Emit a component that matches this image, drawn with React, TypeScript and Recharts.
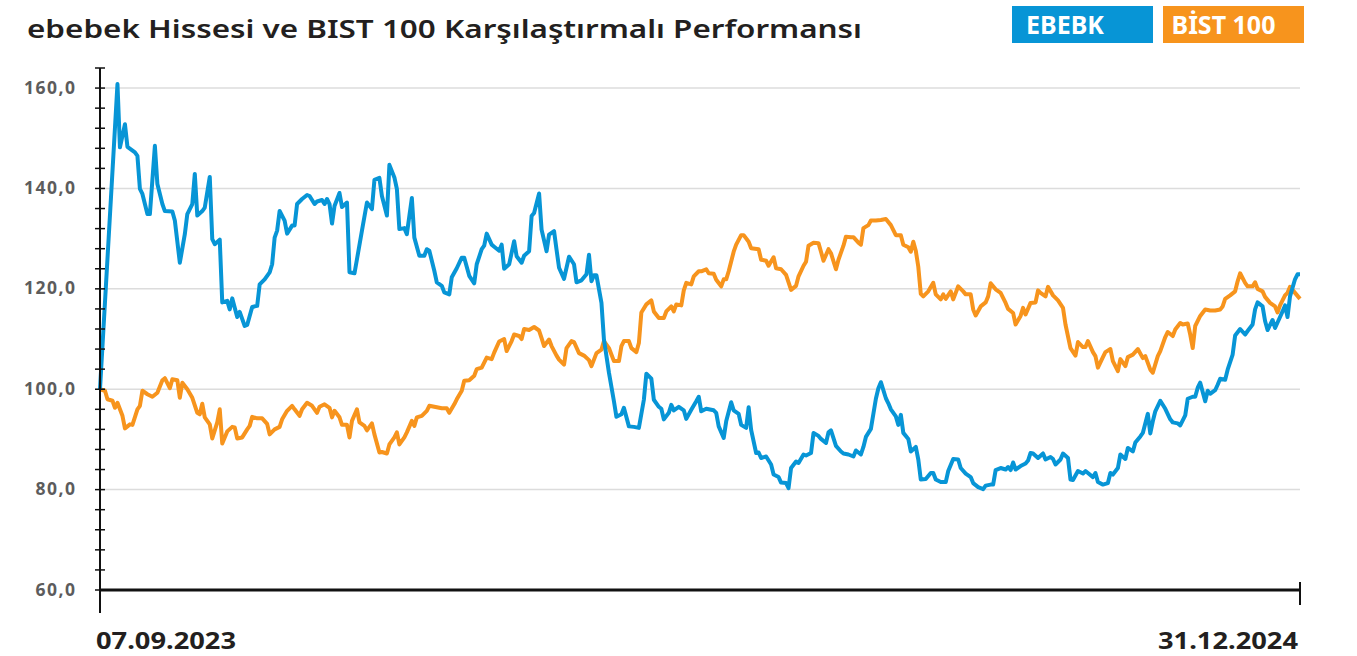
import { LineChart, Line, XAxis, YAxis, CartesianGrid } from "recharts";

// day offsets from 07.09.2023 and normalised values (start = 100)
const ebebkDays = [
  0, 7, 8, 10, 11, 14, 15, 16, 17, 19,
  20, 22, 23, 25, 26, 29, 30, 32, 34, 35,
  37, 38, 39, 41, 42, 44, 45, 46, 48, 49,
  51, 52, 53, 55, 56, 58, 59, 61, 63, 64,
  66, 68, 69, 70, 71, 72, 74, 75, 77, 78,
  79, 81, 83, 84, 86, 87, 89, 90, 91, 92,
  93, 94, 96, 97, 99, 100, 102, 103, 105, 107,
  109, 110, 112, 113, 115, 116, 118, 119, 120, 122,
  123, 125, 126, 128, 130, 131, 132, 134, 135, 137,
  138, 140, 141, 143, 145, 146, 148, 150, 151, 153,
  154, 155, 157, 158, 160, 161, 162, 164, 166, 167,
  169, 170, 172, 173, 174, 176, 177, 179, 180, 182,
  183, 184, 186, 188, 190, 191, 193, 195, 196, 197,
  198, 199, 201, 202, 204, 206, 207, 209, 210, 212,
  214, 216, 218, 219, 221, 222, 224, 225, 226, 228,
  229, 230, 232, 234, 235, 237, 239, 240, 241, 243,
  246, 247, 248, 250, 251, 253, 254, 256, 257, 259,
  260, 261, 263, 264, 265, 267, 269, 270, 272, 273,
  275, 276, 277, 279, 280, 282, 283, 285, 286, 288,
  289, 291, 292, 293, 295, 297, 298, 300, 302, 303,
  305, 306, 307, 309, 311, 312, 313, 315, 316, 317,
  319, 320, 321, 322, 324, 325, 327, 328, 329, 331,
  333, 334, 335, 337, 339, 340, 342, 344, 345, 347,
  349, 350, 352, 354, 355, 357, 358, 359, 361, 363,
  364, 365, 366, 367, 369, 371, 372, 373, 374, 376,
  378, 379, 381, 382, 383, 385, 386, 388, 389, 390,
  392, 394, 395, 396, 398, 399, 400, 402, 404, 405,
  406, 408, 409, 411, 412, 414, 415, 417, 418, 420,
  421, 422, 423, 425, 427, 429, 430, 432, 433, 435,
  436, 438, 439, 440, 441, 443, 444, 445, 447, 448,
  449, 451, 452, 454, 455, 457, 459, 460, 462, 463,
  464, 466, 467, 468, 470, 471, 473, 474, 475, 476,
  477, 479, 480, 481,
];
const ebebkValues = [
  100, 160.8, 148.2, 152.8, 148.3, 147.2, 146.5, 139.9, 138.9, 134.9,
  134.9, 148.5, 140.9, 136.9, 135.5, 135.4, 133.6, 125.2, 130.9, 134.9,
  136.9, 142.9, 134.6, 135.5, 136.2, 142.3, 129.9, 128.9, 129.8, 117.3,
  117.6, 115.9, 118.1, 114.4, 115.4, 112.6, 112.8, 116.4, 116.6, 120.9,
  121.9, 123.3, 124.9, 130.2, 131.6, 135.5, 133.6, 131.0, 132.6, 132.6,
  136.9, 137.9, 138.7, 138.5, 136.9, 137.4, 137.7, 136.9, 137.9, 136.9,
  133.0, 136.5, 139.1, 136.3, 137.2, 123.3, 123.1, 125.9, 131.6, 137.2,
  135.9, 141.7, 142.1, 138.5, 134.6, 144.7, 142.2, 139.9, 131.9, 132.1,
  130.9, 138.1, 130.2, 126.6, 126.6, 127.9, 127.6, 123.6, 121.3, 120.6,
  119.3, 118.9, 122.3, 124.1, 126.2, 126.2, 122.6, 121.1, 124.9, 127.9,
  128.6, 131.0, 128.8, 128.4, 127.6, 128.8, 124.0, 124.9, 129.5, 126.5,
  125.2, 126.6, 127.5, 134.5, 135.1, 139.0, 131.8, 127.5, 130.8, 131.5,
  127.8, 124.2, 122.0, 126.4, 124.9, 121.3, 121.7, 122.9, 126.8, 121.5,
  122.7, 122.7, 117.2, 109.9, 103.3, 97.6, 94.5, 95.0, 96.3, 92.6,
  92.5, 92.3, 97.9, 103.1, 102.1, 97.9, 96.5, 96.1, 94.0, 95.3,
  96.9, 95.8, 96.5, 95.8, 94.1, 95.9, 97.6, 98.5, 95.6, 96.1,
  95.8, 95.3, 92.6, 90.3, 93.6, 97.4, 95.8, 95.1, 92.9, 92.3,
  96.4, 91.9, 87.3, 87.4, 86.3, 86.6, 85.0, 83.0, 82.5, 81.4,
  81.3, 80.3, 84.3, 85.6, 85.3, 87.0, 86.8, 87.3, 91.3, 90.7,
  90.1, 89.3, 91.4, 91.8, 88.7, 87.6, 87.2, 87.0, 86.6, 87.8,
  87.0, 88.5, 90.5, 92.1, 98.1, 100.2, 101.4, 98.2, 97.2, 96.0,
  94.6, 92.9, 94.9, 91.3, 90.1, 87.6, 88.5, 86.0, 82.0, 82.1,
  83.3, 83.3, 82.0, 81.5, 81.5, 83.7, 86.1, 86.0, 84.3, 83.2,
  82.5, 81.3, 80.5, 80.1, 80.8, 81.0, 81.0, 83.9, 84.3, 84.0,
  84.5, 83.9, 85.4, 84.0, 84.7, 85.2, 85.8, 87.3, 87.2, 86.3,
  87.2, 86.0, 86.5, 86.1, 85.0, 86.0, 87.2, 86.3, 82.0, 81.9,
  83.7, 83.2, 83.7, 83.3, 82.5, 83.3, 81.5, 81.0, 81.3, 83.3,
  83.0, 84.3, 87.0, 86.1, 88.3, 87.6, 89.4, 90.6, 91.3, 95.1,
  91.2, 93.6, 95.6, 97.7, 96.1, 94.0, 93.4, 93.2, 92.8, 94.8,
  98.1, 98.5, 98.5, 100.3, 101.3, 97.6, 99.7, 99.1, 99.8, 100.9,
  102.1, 101.9, 103.9, 106.9, 110.7, 112.0, 110.9, 111.6, 112.9, 115.9,
  117.3, 116.5, 113.6, 111.8, 113.8, 112.2, 114.4, 115.5, 116.7, 114.4,
  118.5, 121.9, 122.9, 122.9,
];

const bistDays = [
  0, 2, 3, 5, 6, 7, 9, 10, 12, 13,
  15, 16, 17, 19, 21, 23, 25, 26, 28, 29,
  31, 32, 33, 35, 37, 39, 40, 41, 42, 44,
  45, 47, 48, 49, 51, 53, 54, 55, 57, 59,
  60, 61, 63, 65, 67, 68, 70, 72, 73, 75,
  77, 78, 80, 81, 83, 85, 87, 88, 90, 92,
  93, 94, 96, 97, 99, 100, 101, 103, 104, 106,
  107, 109, 110, 112, 113, 115, 116, 118, 119, 120,
  122, 123, 125, 126, 127, 129, 131, 132, 134, 137,
  139, 140, 142, 143, 145, 146, 148, 150, 151, 153,
  155, 157, 158, 160, 162, 163, 165, 166, 168, 169,
  170, 172, 174, 176, 177, 178, 180, 181, 183, 184,
  186, 187, 189, 190, 192, 194, 196, 197, 199, 201,
  202, 204, 206, 208, 209, 210, 212, 213, 215, 216,
  217, 219, 221, 222, 224, 226, 227, 229, 230, 231,
  233, 234, 235, 237, 238, 240, 241, 243, 244, 246,
  247, 249, 250, 251, 252, 254, 255, 257, 258, 260,
  261, 264, 265, 267, 268, 270, 271, 273, 275, 276,
  277, 279, 280, 282, 283, 284, 286, 288, 289, 290,
  292, 293, 295, 296, 298, 299, 301, 302, 304, 305,
  306, 308, 309, 311, 313, 315, 317, 318, 319, 321,
  322, 324, 325, 326, 327, 328, 329, 330, 332, 334,
  335, 337, 338, 339, 341, 342, 344, 346, 347, 349,
  350, 351, 353, 355, 356, 357, 359, 361, 363, 364,
  366, 367, 369, 370, 371, 373, 375, 376, 377, 379,
  380, 382, 384, 386, 387, 389, 391, 392, 394, 395,
  396, 398, 399, 400, 402, 403, 405, 406, 408, 409,
  411, 412, 414, 416, 418, 419, 421, 422, 424, 425,
  427, 428, 430, 431, 433, 434, 436, 437, 438, 439,
  441, 443, 445, 447, 449, 450, 451, 453, 455, 456,
  457, 459, 460, 462, 463, 464, 466, 467, 469, 471,
  472, 473, 475, 476, 477, 479, 481,
];
const bistValues = [
  100, 99.7, 98.0, 97.7, 96.3, 97.3, 94.7, 92.2, 93.0, 92.9,
  96.0, 96.7, 99.7, 99.0, 98.5, 99.3, 101.8, 102.2, 100.2, 102.0,
  101.8, 98.3, 101.3, 100.0, 98.3, 95.3, 95.0, 97.1, 94.4, 93.0,
  90.2, 93.4, 96.0, 89.2, 91.6, 92.5, 92.4, 90.2, 90.4, 92.0,
  92.7, 94.5, 94.2, 94.2, 93.1, 91.0, 92.0, 92.5, 94.0, 95.7,
  96.7, 96.0, 94.7, 96.0, 97.3, 96.7, 95.3, 96.5, 97.0, 96.3,
  94.4, 95.7, 94.4, 92.9, 92.9, 90.4, 93.7, 96.0, 93.4, 92.7,
  91.8, 93.2, 91.0, 87.4, 87.5, 87.2, 89.0, 90.4, 91.4, 89.0,
  90.4, 91.4, 93.7, 92.7, 94.4, 94.7, 95.7, 96.7, 96.5, 96.2,
  96.2, 95.3, 97.0, 98.0, 99.7, 101.7, 101.8, 102.7, 104.0, 104.3,
  106.3, 106.0, 107.3, 109.5, 110.0, 107.6, 109.6, 110.9, 110.6, 110.0,
  112.0, 111.8, 112.4, 111.7, 110.2, 108.6, 109.9, 108.6, 106.7, 105.9,
  104.9, 108.2, 109.6, 109.4, 107.2, 106.7, 105.8, 104.6, 107.2, 107.9,
  109.6, 108.2, 105.6, 105.6, 108.6, 109.6, 109.6, 108.2, 107.4, 109.2,
  115.3, 116.9, 117.7, 115.5, 114.2, 114.2, 115.5, 116.5, 115.5, 116.9,
  116.7, 119.7, 121.2, 120.9, 122.5, 123.5, 123.5, 123.9, 123.1, 123.0,
  121.8, 120.5, 121.9, 121.9, 123.5, 127.4, 128.8, 130.7, 130.7, 129.4,
  128.1, 127.9, 125.8, 125.6, 124.6, 126.3, 124.1, 123.9, 122.8, 121.3,
  119.8, 120.6, 122.5, 124.6, 125.4, 128.6, 129.2, 129.1, 127.4, 125.6,
  127.9, 127.1, 123.9, 125.8, 128.6, 130.4, 130.3, 130.3, 129.2, 128.8,
  132.1, 132.7, 133.6, 133.6, 133.7, 133.9, 132.7, 131.7, 130.7, 130.7,
  128.8, 128.3, 127.4, 129.4, 127.6, 124.4, 119.0, 118.5, 119.5, 121.2,
  118.9, 117.9, 118.9, 118.0, 119.5, 117.9, 120.5, 119.5, 118.9, 118.9,
  115.9, 114.7, 116.5, 117.3, 118.5, 121.1, 119.9, 119.2, 117.2, 116.0,
  115.2, 112.9, 114.6, 116.2, 114.9, 117.2, 117.3, 119.7, 119.2, 118.5,
  120.4, 118.7, 117.7, 116.2, 112.9, 108.2, 106.7, 109.4, 108.4, 108.4,
  109.6, 107.4, 106.6, 104.3, 106.4, 107.4, 108.0, 105.6, 103.6, 106.0,
  104.6, 106.4, 106.9, 108.0, 106.2, 106.6, 103.9, 103.3, 106.6, 107.6,
  110.4, 111.4, 110.6, 111.9, 113.2, 112.9, 113.1, 110.9, 108.2, 112.6,
  114.6, 115.9, 115.7, 115.7, 115.9, 116.5, 118.0, 118.7, 119.5, 121.5,
  123.1, 121.2, 120.5, 120.5, 121.3, 120.0, 119.5, 118.4, 117.2, 116.5,
  115.3, 116.7, 118.7, 119.2, 120.4, 119.2, 118.0,
];

const seriesNames = ["EBEBK", "BİST 100"];
const seriesColors = ["#0795d6", "#f7941d"];
const yTicks = [60, 64, 68, 72, 76, 80, 84, 88, 92, 96, 100, 104, 108, 112, 116, 120, 124, 128, 132, 136, 140, 144, 148, 152, 156, 160, 164];
const yGridValues = [80, 100, 120, 140, 160];
const xTickDays = [0, 481];
const xTickLabels = ["07.09.2023", "31.12.2024"];

const ebebkData = ebebkDays.map((day, i) => ({ day, value: ebebkValues[i] }));
const bistData = bistDays.map((day, i) => ({ day, value: bistValues[i] }));

const font = "'Noto Sans', sans-serif";

const YTick = (props: any) => {
  const { x, y, payload } = props;
  const v = payload.value as number;
  return (
    <g>
      <line x1={x - 5} x2={x + 5} y1={y} y2={y} stroke="#111" strokeWidth={1.5} />
      {v % 20 === 0 && (
        <text
          x={x - 23.5}
          y={y}
          dy={5.5}
          textAnchor="end"
          fill="#5c5c5c"
          fontSize={17.5}
          fontWeight={700}
          letterSpacing={1.5}
          fontFamily={font}
        >
          {v.toFixed(1).replace(".", ",")}
        </text>
      )}
    </g>
  );
};

const XTick = (props: any) => {
  const { x, y, index } = props;
  const first = index === 0;
  return (
    <g>
      <line x1={x} x2={x} y1={first ? y : y - 8} y2={first ? y + 23 : y + 15} stroke="#111" strokeWidth={2} />
      <text
        x={first ? x - 4 : x - 2}
        y={y + 59}
        textAnchor={first ? "start" : "end"}
        fill="#231f20"
        fontSize={24}
        fontWeight={700}
        textLength={140}
        lengthAdjust="spacingAndGlyphs"
        fontFamily={font}
      >
        {xTickLabels[index]}
      </text>
    </g>
  );
};

export default function App() {
  return (
    <div style={{ position: "absolute", left: 0, top: 0, width: 1357, height: 656, background: "#fff" }}>
      <svg width={1357} height={60} style={{ position: "absolute", left: 0, top: 0 }}>
        <text
          x={27}
          y={37.5}
          fontSize={24.5}
          fontWeight={600}
          fill="#231f20"
          textLength={835}
          lengthAdjust="spacingAndGlyphs"
          fontFamily={font}
        >
          ebebek Hissesi ve BIST 100 Karşılaştırmalı Performansı
        </text>
        {seriesNames.map((name, i) => (
          <g key={name}>
            <rect x={1012 + i * 151} y={6} width={141} height={37} fill={seriesColors[i]} />
            <text x={1026 + i * 145.5} y={33.5} fontSize={25} fontWeight={700} fill="#fff" fontFamily={font}>
              {name}
            </text>
          </g>
        ))}
      </svg>
      <div style={{ position: "absolute", left: 0, top: 0 }}>
        <LineChart width={1357} height={656} margin={{ top: 68, right: 57, bottom: 0, left: 0 }}>
          <CartesianGrid vertical={false} horizontalValues={yGridValues} stroke="#dcdcdc" strokeWidth={1.5} />
          <XAxis
            type="number"
            dataKey="day"
            domain={[0, 481]}
            ticks={xTickDays}
            interval={0}
            height={66}
            tickSize={0}
            tickMargin={0}
            tickLine={false}
            tick={<XTick />}
            axisLine={{ stroke: "#111", strokeWidth: 3 }}
            allowDuplicatedCategory={false}
          />
          <YAxis
            type="number"
            domain={[60, 164]}
            ticks={yTicks}
            interval={0}
            width={100}
            tickSize={0}
            tickMargin={0}
            tickLine={false}
            tick={<YTick />}
            axisLine={{ stroke: "#111", strokeWidth: 2 }}
          />
          <Line
            data={bistData}
            dataKey="value"
            name={seriesNames[1]}
            type="linear"
            stroke={seriesColors[1]}
            strokeWidth={4}
            strokeLinejoin="round"
            dot={false}
            isAnimationActive={false}
          />
          <Line
            data={ebebkData}
            dataKey="value"
            name={seriesNames[0]}
            type="linear"
            stroke={seriesColors[0]}
            strokeWidth={4}
            strokeLinejoin="round"
            dot={false}
            isAnimationActive={false}
          />
        </LineChart>
      </div>
    </div>
  );
}
